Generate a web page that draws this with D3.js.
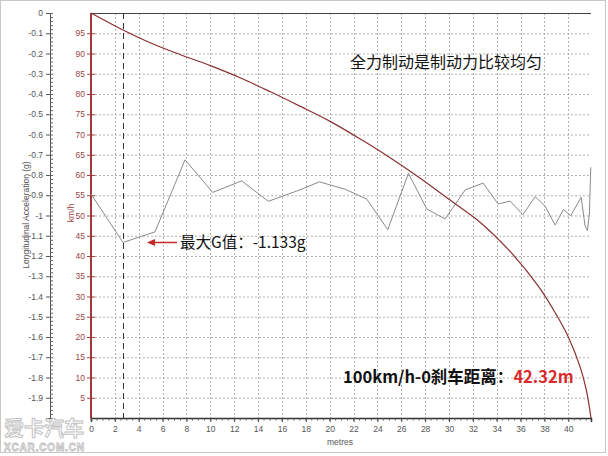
<!DOCTYPE html>
<html><head><meta charset="utf-8">
<script src="https://cdn.jsdelivr.net/npm/d3@7"></script>
<style>body{margin:0;background:#fff}svg{display:block}</style>
</head><body>
<script>
// ---- data ----
const gDist = [0, 2.68, 5.36, 7.88, 10.2, 12.63, 14.86, 17.52, 19.14, 21.29, 23.11, 24.87, 26.6, 28.14, 29.67, 31.35, 32.86, 34.12, 35.12, 36.19, 37.22, 38.06, 38.89, 39.59, 40.21, 41.07, 41.4, 41.6, 41.77, 41.88];
const gVal  = [-0.894, -1.133, -1.081, -0.725, -0.886, -0.829, -0.930, -0.873, -0.834, -0.870, -0.919, -1.070, -0.792, -0.968, -1.017, -0.874, -0.840, -0.943, -0.929, -0.996, -0.907, -0.955, -1.047, -0.971, -1.001, -0.910, -1.050, -1.075, -0.988, -0.762];
const vDist = [0, 2.68, 5, 7.5, 10, 12.5, 15, 17.5, 20, 22.5, 25, 27.5, 30, 32.5, 35, 37.5, 39, 40, 41, 41.5, 41.9];
const vVal  = [100, 95.8, 92.6, 89.7, 87, 84, 80.6, 77, 73.3, 69, 64.4, 59.4, 54, 48.6, 41.5, 32.5, 25.5, 20, 12.5, 7, 0];
const gTicks = d3.range(0, 20).map(i => -i / 10);
const vTicks = d3.range(5, 100, 5);
const xTicks = d3.range(0, 42, 2);
const markerDist = 2.7;
const titleText = "全力制动是制动力比较均匀";
const maxGText = "最大G值：-1.133g";
const distLabel = "100km/h-0刹车距离：";
const distValue = "42.32m";

// ---- layout ----
const W = 608, H = 456;
const L = 91, R = 591, T = 13, B = 418;
const svg = d3.select("body").append("svg").attr("width", W).attr("height", H);
const x = d3.scaleLinear().domain([0, 41.9]).range([L, R]);
const yG = d3.scaleLinear().domain([0, -2]).range([T, B]);
const yV = d3.scaleLinear().domain([0, 100]).range([B, T]);
const lab = "Liberation Sans, Arial, sans-serif";
const cjk = "'Noto Sans CJK SC', sans-serif";

// frame
svg.append("rect").attr("x", 0.5).attr("y", 0.5).attr("width", 605).attr("height", 452)
  .attr("fill", "none").attr("stroke", "#c8c8c8");

// grid
const grid = svg.append("g").attr("stroke", "#b0b0b0").attr("stroke-dasharray", "2,2").attr("stroke-width", 1);
vTicks.forEach(v => grid.append("line").attr("x1", L).attr("x2", R).attr("y1", yV(v) + 0.5).attr("y2", yV(v) + 0.5));
xTicks.filter(d => d > 0).forEach(d => grid.append("line").attr("x1", Math.round(x(d)) + 0.5).attr("x2", Math.round(x(d)) + 0.5).attr("y1", T).attr("y2", B));

// marker dashed line
svg.append("line").attr("x1", Math.round(x(markerDist)) + 0.5).attr("x2", Math.round(x(markerDist)) + 0.5)
  .attr("y1", T).attr("y2", B).attr("stroke", "#333").attr("stroke-dasharray", "6,4");

// top border
svg.append("line").attr("x1", L).attr("x2", R).attr("y1", T + 0.5).attr("y2", T + 0.5).attr("stroke", "#444");

// left g axis
const gAxis = d3.axisLeft(yG).tickValues(gTicks).tickSize(4).tickFormat(d => d === 0 ? "0" : String(+d.toFixed(1)));
const ga = svg.append("g").attr("transform", "translate(50,0)").call(gAxis);
ga.select(".domain").attr("stroke", "#555");
ga.selectAll(".tick line").attr("stroke", "#555");
ga.selectAll("text").attr("fill", "#555").attr("font-family", lab).attr("font-size", 8.5);
const gMinor = d3.range(0, 101).map(i => -i / 50);
svg.append("g").selectAll("line").data(gMinor).join("line")
  .attr("x1", 50).attr("x2", 53).attr("y1", d => yG(d) + 0.5).attr("y2", d => yG(d) + 0.5).attr("stroke", "#666");
svg.append("text").attr("transform", "translate(29,215) rotate(-90)").attr("text-anchor", "middle")
  .attr("font-family", lab).attr("font-size", 8.5).attr("fill", "#555").text("Longitudinal Acceleration (g)");

// km/h axis
const vAxis = d3.axisLeft(yV).tickValues(vTicks).tickSize(4);
const va = svg.append("g").attr("transform", `translate(${L},0)`).call(vAxis);
va.select(".domain").remove();
va.selectAll(".tick line").attr("stroke", "#a44").attr("x2", 4).attr("x1", -4);
va.selectAll("text").attr("fill", "#9b4646").attr("font-family", lab).attr("font-size", 8.5).attr("x", -6);
svg.append("line").attr("x1", L).attr("x2", L).attr("y1", T).attr("y2", B).attr("stroke", "#a33a3a").attr("stroke-width", 2);
svg.append("text").attr("transform", "translate(74,213) rotate(-90)").attr("text-anchor", "middle")
  .attr("font-family", lab).attr("font-size", 8.5).attr("fill", "#9b4646").text("km/h");

// x axis
const xAxis = d3.axisBottom(x).tickValues(xTicks).tickSize(4);
const xa = svg.append("g").attr("transform", `translate(0,${B})`).call(xAxis);
xa.select(".domain").attr("stroke", "#333").attr("stroke-width", 1.5);
xa.selectAll(".tick line").attr("stroke", "#444");
xa.selectAll("text").attr("fill", "#555").attr("font-family", lab).attr("font-size", 8.5).attr("dy", "0.85em");
svg.append("g").selectAll("line").data(d3.range(0, 84).map(i => i / 2)).join("line")
  .attr("x1", d => x(d)).attr("x2", d => x(d)).attr("y1", B).attr("y2", B + 2.5).attr("stroke", "#555");
svg.append("text").attr("x", 340).attr("y", 445).attr("text-anchor", "middle")
  .attr("font-family", lab).attr("font-size", 8.5).attr("fill", "#555").text("metres");

// series
const gLine = d3.line().x((d, i) => x(gDist[i])).y(d => yG(d));
svg.append("path").attr("d", gLine(gVal)).attr("fill", "none").attr("stroke", "#8a8a8a").attr("stroke-width", 1);
const vLine = d3.line().x((d, i) => x(vDist[i])).y(d => yV(d)).curve(d3.curveCatmullRom);
svg.append("path").attr("d", vLine(vVal)).attr("fill", "none").attr("stroke", "#8b3030").attr("stroke-width", 1.2);

// annotations
svg.append("text").attr("x", 350).attr("y", 68).attr("font-family", cjk).attr("font-size", 16).attr("fill", "#111").text(titleText);
svg.append("line").attr("x1", 152).attr("x2", 177).attr("y1", 242.5).attr("y2", 242.5).attr("stroke", "#c62828").attr("stroke-width", 1.5);
svg.append("path").attr("d", "M147,242.5 L155,239 L155,246 Z").attr("fill", "#c62828");
svg.append("text").attr("x", 180).attr("y", 248).attr("font-family", cjk).attr("font-size", 15.5).attr("fill", "#111").text(maxGText);
const dt = svg.append("text").attr("x", 343).attr("y", 383).attr("font-family", cjk).attr("font-size", 16.5).attr("font-weight", "bold").attr("fill", "#111");
dt.append("tspan").text(distLabel);
dt.append("tspan").attr("fill", "#d92b2b").text(distValue);

// watermark
svg.append("text").attr("x", 4).attr("y", 436).attr("font-family", cjk).attr("font-size", 20).attr("font-weight", "bold")
  .attr("fill", "#fff").attr("stroke", "#bdbdbd").attr("stroke-width", 1).attr("opacity", 0.9).text("爱卡汽车");
svg.append("text").attr("x", 4).attr("y", 451).attr("font-family", lab).attr("font-size", 10).attr("font-weight", "bold")
  .attr("fill", "#fff").attr("stroke", "#bdbdbd").attr("stroke-width", 0.8).attr("textLength", 80).text("XCAR.COM.CN");
</script>
</body></html>
